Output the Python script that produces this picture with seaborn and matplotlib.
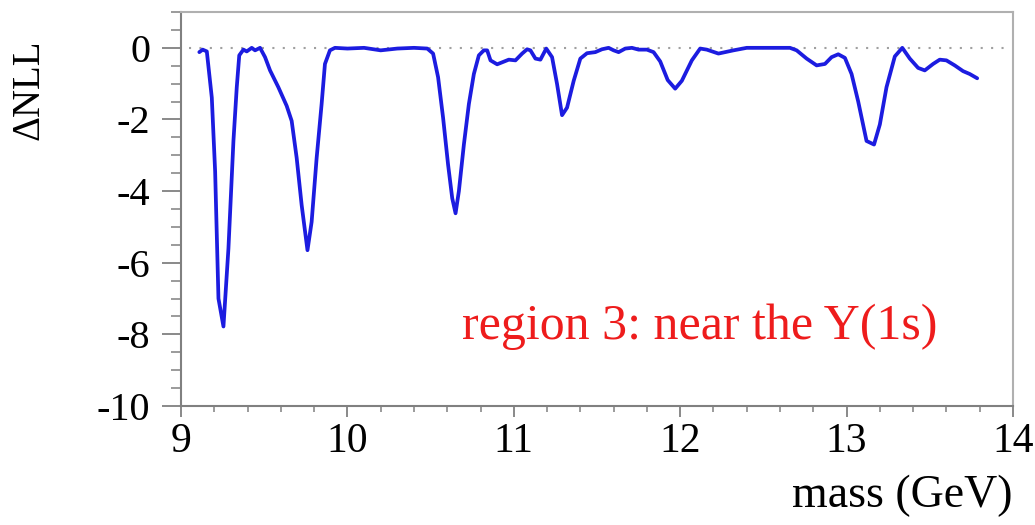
import matplotlib
matplotlib.use("Agg")
import matplotlib.pyplot as plt
from matplotlib.ticker import MultipleLocator
import seaborn as sns
import pandas as pd

# valores (masa en GeV, delta NLL)
mass = [9.11, 9.13, 9.155, 9.185, 9.205, 9.225, 9.255, 9.285, 9.315, 9.335,
        9.35, 9.375, 9.395, 9.425, 9.445, 9.475, 9.505, 9.535, 9.585, 9.635,
        9.665, 9.695, 9.725, 9.76, 9.785, 9.815, 9.845, 9.865, 9.895, 9.925,
        10.0, 10.1, 10.2, 10.3, 10.4, 10.48, 10.515, 10.545, 10.575, 10.605,
        10.63, 10.65, 10.67, 10.7, 10.73, 10.76, 10.79, 10.82, 10.84, 10.86,
        10.9, 10.97, 11.01, 11.05, 11.08, 11.1, 11.13, 11.16, 11.195, 11.23,
        11.26, 11.29, 11.32, 11.36, 11.4, 11.44, 11.49, 11.53, 11.57, 11.6,
        11.63, 11.67, 11.71, 11.75, 11.8, 11.84, 11.88, 11.925, 11.97, 12.01,
        12.07, 12.12, 12.16, 12.23, 12.32, 12.4, 12.5, 12.6, 12.66, 12.7,
        12.76, 12.82, 12.87, 12.91, 12.95, 12.99, 13.03, 13.07, 13.12, 13.165,
        13.2, 13.24, 13.29, 13.335, 13.38, 13.43, 13.47, 13.52, 13.56, 13.6,
        13.65, 13.7, 13.74, 13.785]
dnll = [-0.12, -0.05, -0.1, -1.39, -3.45, -7.0, -7.78, -5.6, -2.6, -1.1,
        -0.21, -0.05, -0.1, 0.0, -0.07, 0.0, -0.26, -0.63, -1.1, -1.62,
        -2.04, -3.07, -4.39, -5.65, -4.86, -3.08, -1.57, -0.45, -0.07, 0.0,
        -0.02, 0.0, -0.07, -0.02, 0.0, -0.02, -0.16, -0.82, -1.95, -3.26,
        -4.2, -4.62, -4.0, -2.7, -1.57, -0.73, -0.21, -0.07, -0.07, -0.35,
        -0.46, -0.33, -0.35, -0.16, -0.04, -0.07, -0.3, -0.33, -0.02, -0.26,
        -1.01, -1.88, -1.67, -0.92, -0.3, -0.15, -0.12, -0.04, 0.0, -0.07,
        -0.12, -0.02, 0.0, -0.05, -0.05, -0.12, -0.38, -0.9, -1.14, -0.92,
        -0.35, -0.02, -0.05, -0.16, -0.07, 0.0, 0.0, 0.0, 0.0, -0.07,
        -0.3, -0.49, -0.45, -0.26, -0.18, -0.28, -0.73, -1.5, -2.6, -2.7,
        -2.14, -1.1, -0.24, 0.0, -0.3, -0.56, -0.63, -0.45, -0.33, -0.35,
        -0.49, -0.65, -0.73, -0.85]

df = pd.DataFrame({"mass": mass, "dnll": dnll})

sns.set_style("white")
plt.rcParams["font.family"] = ["Liberation Serif", "DejaVu Serif"]
plt.rcParams["axes.unicode_minus"] = False
plt.rcParams["text.color"] = "black"
plt.rcParams["axes.labelcolor"] = "black"
plt.rcParams["xtick.labelcolor"] = "black"
plt.rcParams["ytick.labelcolor"] = "black"

fig = plt.figure(figsize=(10.35, 5.25), dpi=100)
ax = fig.add_axes([0.1749, 0.2267, 0.8038, 0.7504])

ax.axhline(0, xmin=0.01, xmax=0.99, color="#a0a0a0", linestyle=(0, (1, 4)), linewidth=1.5)
sns.lineplot(data=df, x="mass", y="dnll", ax=ax, color="#1c1ce0",
             linewidth=2.7, estimator=None, sort=True)

ax.set_xlim(9, 14)
ax.set_ylim(-10, 1)
ax.xaxis.set_major_locator(MultipleLocator(1))
ax.xaxis.set_minor_locator(MultipleLocator(0.2))
ax.yaxis.set_major_locator(MultipleLocator(2))
ax.yaxis.set_minor_locator(MultipleLocator(0.5))

ax.tick_params(axis="y", which="major", direction="out", length=14, width=1.3,
               color="#808080", labelsize=29, pad=8, left=True)
ax.tick_params(axis="y", which="minor", direction="out", length=7, width=1.1,
               color="#808080", left=True)
ax.tick_params(axis="x", which="major", direction="out", length=8, width=1.3,
               color="#808080", labelsize=30, pad=4, bottom=True)
ax.tick_params(axis="x", which="minor", direction="out", length=4.5, width=1.1,
               color="#808080", bottom=True)

for side in ["left", "bottom"]:
    ax.spines[side].set_color("#808080")
    ax.spines[side].set_linewidth(1.5)
for side in ["top", "right"]:
    ax.spines[side].set_color("#b0b0b0")
    ax.spines[side].set_linewidth(1.5)

ax.set_xlabel("mass (GeV)", fontsize=33, loc="right")
ax.xaxis.set_label_coords(1.0, -0.175)
ax.set_ylabel("ΔNLL", fontsize=28, loc="top")
ax.yaxis.set_label_coords(-0.16, 0.93)

ax.text(12.12, -7.8, "region 3: near the Υ(1s)", color="#ee1c1c",
        fontsize=36, ha="center", va="center")

fig.savefig("out.png", dpi=100)
